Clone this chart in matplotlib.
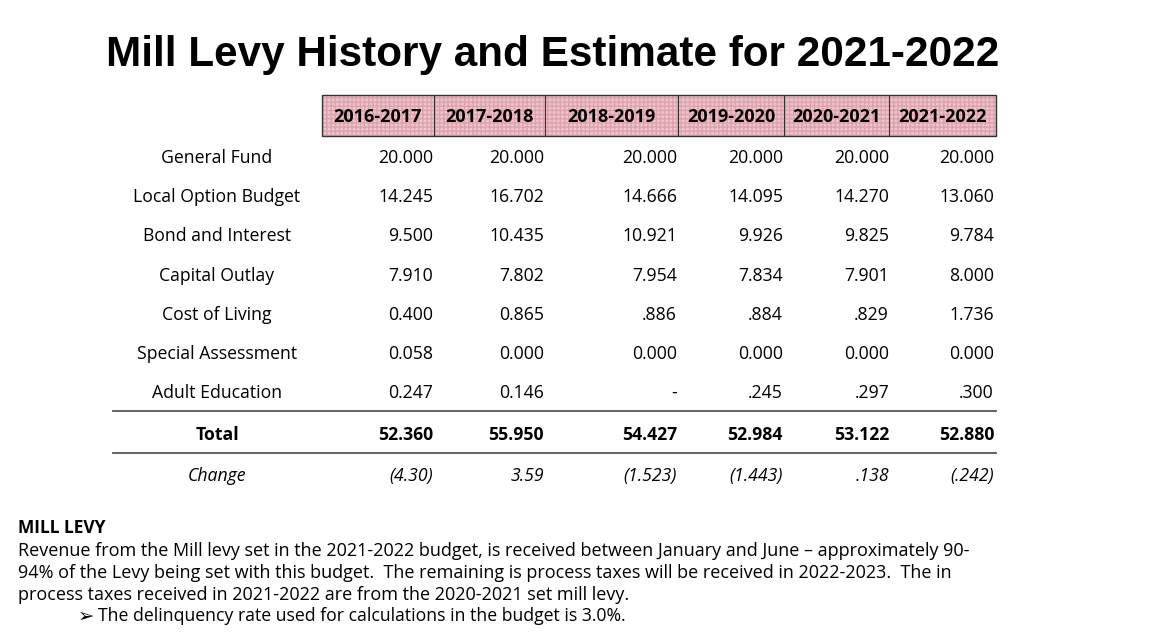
import matplotlib as mpl
mpl.use('Agg')
import matplotlib.pyplot as plt
from matplotlib.patches import Rectangle

title = "Mill Levy History and Estimate for 2021-2022"
years = ["2016-2017", "2017-2018", "2018-2019", "2019-2020", "2020-2021", "2021-2022"]
row_labels = ["General Fund", "Local Option Budget", "Bond and Interest", "Capital Outlay",
              "Cost of Living", "Special Assessment", "Adult Education"]
general_fund = ["20.000", "20.000", "20.000", "20.000", "20.000", "20.000"]
local_option = ["14.245", "16.702", "14.666", "14.095", "14.270", "13.060"]
bond_interest = ["9.500", "10.435", "10.921", "9.926", "9.825", "9.784"]
capital_outlay = ["7.910", "7.802", "7.954", "7.834", "7.901", "8.000"]
cost_of_living = ["0.400", "0.865", ".886", ".884", ".829", "1.736"]
special_assess = ["0.058", "0.000", "0.000", "0.000", "0.000", "0.000"]
adult_education = ["0.247", "0.146", "-", ".245", ".297", ".300"]
totals = ["52.360", "55.950", "54.427", "52.984", "53.122", "52.880"]
changes = ["(4.30)", "3.59", "(1.523)", "(1.443)", ".138", "(.242)"]

note_head = "MILL LEVY"
note_lines = [
    "Revenue from the Mill levy set in the 2021-2022 budget, is received between January and June \u2013 approximately 90-",
    "94% of the Levy being set with this budget.  The remaining is process taxes will be received in 2022-2023.  The in",
    "process taxes received in 2021-2022 are from the 2020-2021 set mill levy.",
]
bullet = "The delinquency rate used for calculations in the budget is 3.0%."

rows = [general_fund, local_option, bond_interest, capital_outlay,
        cost_of_living, special_assess, adult_education]

W, H = 1165, 643
fig = plt.figure(figsize=(W / 100, H / 100), dpi=100)
ax = fig.add_axes([0, 0, 1, 1])
ax.set_xlim(0, W)
ax.set_ylim(H, 0)
ax.axis('off')

body = ['Open Sans', 'DejaVu Sans']
fs = 12.7

# layout (pixels)
col_edges = [322, 434, 545, 678, 784, 889, 996]
col_right = [433, 544, 677, 783, 889, 994]
row_y = [157, 196, 235, 275, 314, 353, 392]
label_x = 217
hdr_top, hdr_bot = 95, 136

ax.text(553, 55, title, ha='center', va='center', fontsize=30.4, fontweight='bold',
        family='Liberation Sans')

# header
ax.add_patch(Rectangle((col_edges[0], hdr_top), col_edges[-1] - col_edges[0], hdr_bot - hdr_top,
                       facecolor='#eec4ca', edgecolor='none', zorder=1))
ax.add_patch(Rectangle((col_edges[0], hdr_top), col_edges[-1] - col_edges[0], hdr_bot - hdr_top,
                       facecolor='none', edgecolor='#dca3ad', hatch='++++', linewidth=0, zorder=2))
ax.add_patch(Rectangle((col_edges[0], hdr_top), col_edges[-1] - col_edges[0], hdr_bot - hdr_top,
                       facecolor='none', edgecolor='#333333', linewidth=1.0, zorder=3))
for xe in col_edges[1:-1]:
    ax.plot([xe, xe], [hdr_top, hdr_bot], color='#333333', linewidth=0.8, zorder=3)
for i, yr in enumerate(years):
    ax.text((col_edges[i] + col_edges[i + 1]) / 2, (hdr_top + hdr_bot) / 2 + 2, yr,
            ha='center', va='center', fontsize=13, fontweight='bold', family=body, zorder=4)

for label, vals, y in zip(row_labels, rows, row_y):
    ax.text(label_x, y + 1, label, ha='center', va='center', fontsize=fs, family=body)
    for xr, v in zip(col_right, vals):
        ax.text(xr, y + 1, v, ha='right', va='center', fontsize=fs, family=body)

# total and change
ax.plot([113, 996], [411, 411], color='#555555', linewidth=1.3)
ax.plot([113, 996], [453, 453], color='#555555', linewidth=1.3)
ax.text(label_x, 435, "Total", ha='center', va='center', fontsize=fs, fontweight='bold', family=body)
for xr, v in zip(col_right, totals):
    ax.text(xr, 435, v, ha='right', va='center', fontsize=fs, fontweight='bold', family=body)
ax.text(label_x, 476, "Change", ha='center', va='center', fontsize=fs, style='italic', family=body)
for xr, v in zip(col_right, changes):
    ax.text(xr, 476, v, ha='right', va='center', fontsize=fs, style='italic', family=body)

# notes
ax.text(18, 528, note_head, ha='left', va='center', fontsize=12.5, fontweight='bold', family=body)
for i, line in enumerate(note_lines):
    ax.text(18, 551 + 21.8 * i, line, ha='left', va='center', fontsize=12.95, family=body)
ax.text(78, 616, "\u27a2", ha='left', va='center', fontsize=14, family=['DejaVu Sans'])
ax.text(98, 616, bullet, ha='left', va='center', fontsize=12.7, family=body)

fig.savefig('out.png', dpi=100)
plt.close(fig)
